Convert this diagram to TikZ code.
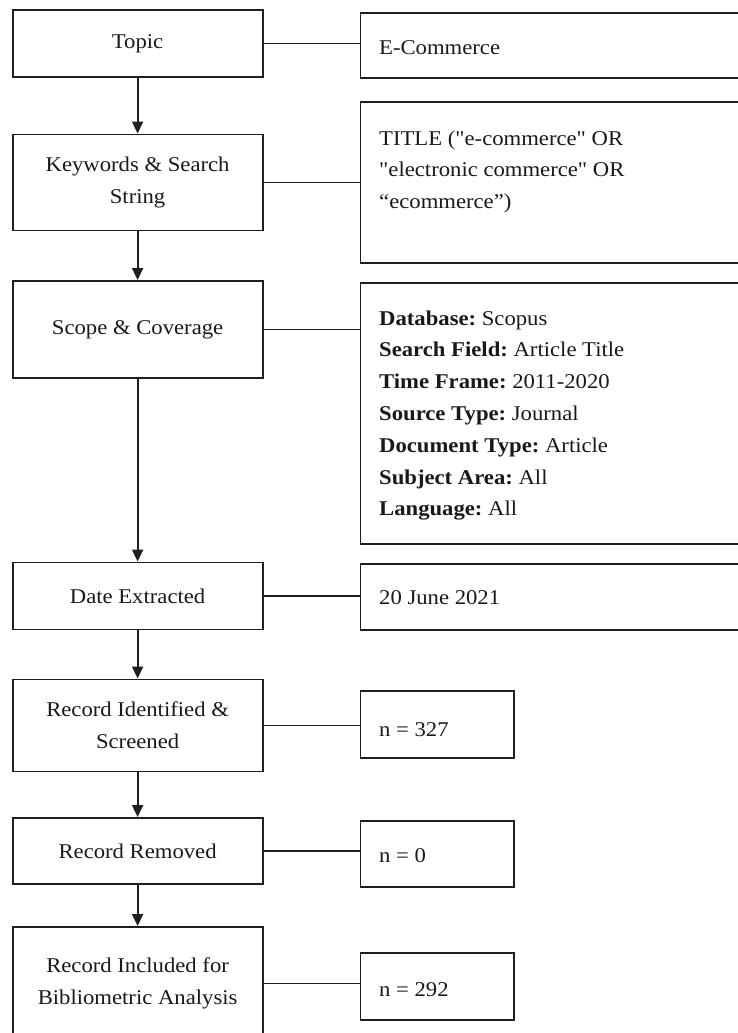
\documentclass[tikz,border=0pt]{standalone}
\usepackage{fontspec}
\setmainfont[FakeStretch=1.08]{Liberation Serif}
\newfontfamily\qfont[FakeStretch=1.08]{Liberation Serif}
\newcommand\sq{{\qfont"}}
\usetikzlibrary{arrows.meta}
\frenchspacing
\begin{document}
\begin{tikzpicture}[x=1pt,y=-1pt,
  every node/.style={font=\fontsize{21}{31.8}\selectfont, text=black!90},
  lbox/.style={draw=black!88, line width=1.9pt, minimum width=250pt, align=center, inner sep=0pt},
  rbox/.style={draw=black!88, line width=1.9pt, anchor=north west, inner sep=0pt},
  rtext/.style={anchor=base west, inner sep=0pt},
  link/.style={draw=black!88, line width=1.9pt},
  flow/.style={draw=black!88, line width=1.9pt, -{Triangle[length=12pt,width=11pt]}}]
\clip (0,0) rectangle (738,1033);
\fill[white] (0,0) rectangle (738,1033);
% left column
\node[lbox, minimum height=67pt] (topic) at (137.6,43.5) {Topic};
\node[lbox, minimum height=96pt] (kw) at (137.6,182.5) {Keywords \& Search\\String};
\node[lbox, minimum height=97pt] (scope) at (137.6,329.5) {Scope \& Coverage};
\node[lbox, minimum height=67pt] (date) at (137.6,596) {Date Extracted};
\node[lbox, minimum height=92pt] (ident) at (137.6,725.5) {Record Identified \&\\Screened};
\node[lbox, minimum height=66pt] (rem) at (137.6,851) {Record Removed};
\node[lbox, minimum height=113pt] (incl) at (137.6,983.5) {Record Included for\\Bibliometric Analysis};
% right column boxes
\node[rbox, minimum width=390pt, minimum height=65.6pt] (ecom) at (359.5,11.7) {};
\node[rbox, minimum width=390pt, minimum height=160.7pt] (title) at (359.5,101) {};
\node[rbox, minimum width=390pt, minimum height=261pt] (db) at (359.5,282.3) {};
\node[rbox, minimum width=390pt, minimum height=66pt] (dval) at (359.5,563.3) {};
\node[rbox, minimum width=153.5pt, minimum height=66.7pt] (n1) at (359.5,690) {};
\node[rbox, minimum width=153.5pt, minimum height=66pt] (n2) at (359.5,820) {};
\node[rbox, minimum width=153.5pt, minimum height=66.4pt] (n3) at (359.5,952.3) {};
% right column texts
\node[rtext] (ecomt) at (379,55) {E-Commerce};
\node[rtext] (titlet) at (379,145) {\begin{tabular}[t]{@{}l@{}}TITLE (\sq e-commerce\sq{} OR\\\sq electronic commerce\sq{} OR\\“ecommerce”)\end{tabular}};
\node[rtext] (dbt) at (379,325) {\begin{tabular}[t]{@{}l@{}}\textbf{Database:} Scopus\\\textbf{Search Field:} Article Title\\\textbf{Time Frame:} 2011-2020\\\textbf{Source Type:} Journal\\\textbf{Document Type:} Article\\\textbf{Subject Area:} All\\\textbf{Language:} All\end{tabular}};
\node[rtext] (dvalt) at (379,604) {20 June 2021};
\node[rtext] (n1t) at (379,736.7) {n = 327};
\node[rtext] (n2t) at (379,862.7) {n = 0};
\node[rtext] (n3t) at (379,996.7) {n = 292};
% arrows
\draw[flow] (topic) -- (kw);
\draw[flow] (kw) -- (scope);
\draw[flow] (scope) -- (date);
\draw[flow] (date) -- (ident);
\draw[flow] (ident) -- (rem);
\draw[flow] (rem) -- (incl);
% links
\draw[link] (topic.east) -- (topic.east -| ecom.west);
\draw[link] (kw.east) -- (kw.east -| title.west);
\draw[link] (scope.east) -- (scope.east -| db.west);
\draw[link] (date.east) -- (date.east -| dval.west);
\draw[link] (ident.east) -- (ident.east -| n1.west);
\draw[link] (rem.east) -- (rem.east -| n2.west);
\draw[link] (incl.east) -- (incl.east -| n3.west);
\end{tikzpicture}
\end{document}
